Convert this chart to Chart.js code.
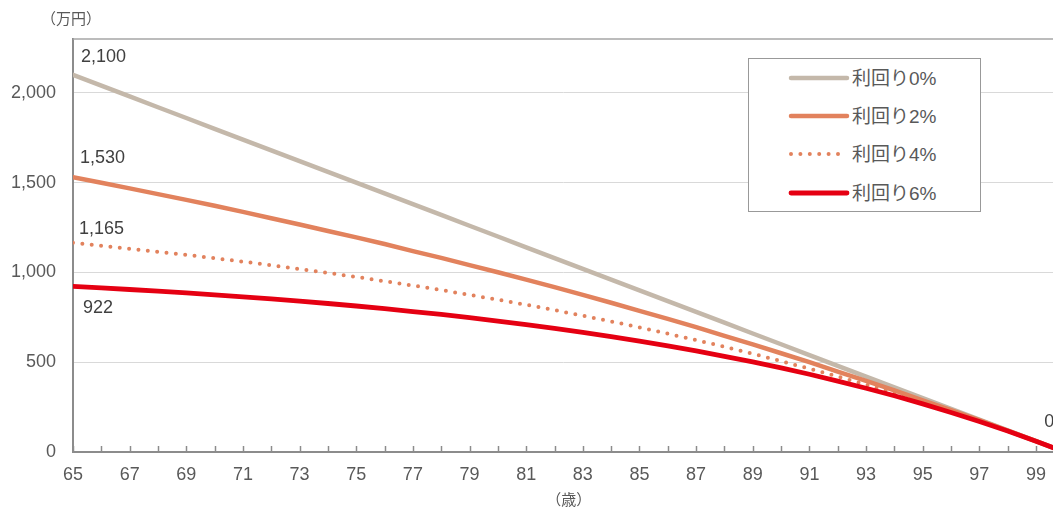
<!DOCTYPE html>
<html lang="ja">
<head>
<meta charset="utf-8">
<script src="https://cdn.jsdelivr.net/npm/chart.js@4.4.1/dist/chart.umd.min.js"></script>
<style>
  html, body { margin: 0; padding: 0; background: #fff; overflow: hidden; }
  #wrap { position: relative; width: 1053px; height: 509px; }
  #legend {
    position: absolute; left: 748px; top: 58px; width: 233px; height: 154px;
    box-sizing: border-box; border: 1px solid #999; background: #fff;
    font-family: "Liberation Sans", Arial, "Noto Sans CJK JP", sans-serif;
    font-size: 19px; color: #595959;
  }
  .row { position: relative; height: 38.2px; }
  .row svg { position: absolute; left: 38px; top: 14px; }
  .row span { position: absolute; left: 103px; top: 50%; transform: translateY(-50%); line-height: 1; white-space: nowrap; }
</style>
</head>
<body>
<div id="wrap">
  <canvas id="chart" width="1053" height="509"></canvas>
  <div id="legend"></div>
</div>
<script>
// ages (years old)
const ages = [65, 66, 67, 68, 69, 70, 71, 72, 73, 74, 75, 76, 77, 78, 79, 80, 81, 82,
  83, 84, 85, 86, 87, 88, 89, 90, 91, 92, 93, 94, 95, 96, 97, 98, 99, 100];

// remaining balance (万円)
const rate0 = [2100, 2040, 1980, 1920, 1860, 1800, 1740, 1680, 1620, 1560, 1500, 1440,
  1380, 1320, 1260, 1200, 1140, 1080, 1020, 960, 900, 840, 780, 720, 660, 600, 540,
  480, 420, 360, 300, 240, 180, 120, 60, 0];
const rate2 = [1530, 1499, 1468, 1436, 1404, 1371, 1337, 1302, 1267, 1231, 1195, 1158,
  1119, 1081, 1041, 1001, 960, 918, 875, 831, 786, 741, 695, 647, 599, 550, 500,
  448, 396, 343, 288, 233, 177, 119, 60, 0];
const rate4 = [1165, 1149, 1132, 1115, 1098, 1079, 1060, 1040, 1019, 997, 975, 951,
  927, 902, 875, 848, 820, 790, 759, 727, 694, 659, 623, 586, 547, 506, 464,
  420, 375, 327, 278, 227, 173, 118, 60, 0];
const rate6 = [922, 914, 905, 896, 886, 875, 864, 853, 840, 827, 813, 798,
  782, 766, 748, 729, 710, 689, 666, 643, 618, 591, 563, 533, 502, 468, 433,
  395, 355, 313, 268, 220, 170, 117, 60, 0];

const seriesNames = ['利回り0%', '利回り2%', '利回り4%', '利回り6%'];
const seriesValues = [rate0, rate2, rate4, rate6];
const yTicks = [0, 500, 1000, 1500, 2000];

const FONT = '"Liberation Sans", Arial, "Noto Sans CJK JP", sans-serif';
const AXIS_COLOR = '#8c8c8c';
const TEXT_COLOR = '#595959';

const styles = [
  { color: '#c4b8aa', width: 4.5, dash: [] },
  { color: '#e2825d', width: 4.5, dash: [] },
  { color: '#e2825d', width: 4, dash: [0, 9.4] },
  { color: '#e50012', width: 4.8, dash: [] }
];

// which points get a value label, and where it sits relative to the point
const valueLabels = [
  { series: 0, index: 0, dx: 8, dy: -18, align: 'left' },
  { series: 1, index: 0, dx: 7, dy: -19, align: 'left' },
  { series: 2, index: 0, dx: 6, dy: -14, align: 'left' },
  { series: 3, index: 0, dx: 10, dy: 22, align: 'left' },
  { series: 3, index: 35, dx: -15, dy: -30, align: 'center' }
];

function fmt(v) {
  return v.toLocaleString('en-US');
}

const datasets = seriesNames.map((name, i) => ({
  label: name,
  data: ages.map((a, j) => ({ x: a, y: seriesValues[i][j] })),
  borderColor: styles[i].color,
  backgroundColor: styles[i].color,
  borderWidth: styles[i].width,
  borderDash: styles[i].dash,
  borderCapStyle: 'round',
  borderJoinStyle: 'round',
  pointRadius: 0,
  tension: 0,
  order: 3 - i
}));

const decorations = {
  id: 'decorations',
  afterDraw(chart) {
    const { ctx, chartArea: area, scales: { x, y } } = chart;
    ctx.save();
    // top border
    ctx.strokeStyle = '#a6a6a6';
    ctx.lineWidth = 1.5;
    ctx.beginPath();
    ctx.moveTo(area.left, area.top);
    ctx.lineTo(chart.width, area.top);
    ctx.stroke();
    // tick marks pointing into the plot
    ctx.strokeStyle = AXIS_COLOR;
    ctx.lineWidth = 1.5;
    x.ticks.forEach(t => {
      const px = Math.round(x.getPixelForValue(t.value)) + 0.5;
      ctx.beginPath();
      ctx.moveTo(px, area.bottom);
      ctx.lineTo(px, area.bottom - 6);
      ctx.stroke();
    });
    // axis titles
    ctx.fillStyle = TEXT_COLOR;
    ctx.font = '15px ' + FONT;
    ctx.textAlign = 'center';
    ctx.textBaseline = 'middle';
    ctx.fillText('（万円）', 71, 20);
    ctx.fillText('（歳）', (area.left + x.getPixelForValue(100)) / 2, 501);
    // value labels
    ctx.fillStyle = '#404040';
    ctx.font = '18px ' + FONT;
    valueLabels.forEach(l => {
      const v = seriesValues[l.series][l.index];
      const px = x.getPixelForValue(ages[l.index]);
      const py = y.getPixelForValue(v);
      ctx.textAlign = l.align;
      ctx.fillText(fmt(v), px + l.dx, py + l.dy);
    });
    ctx.restore();
  }
};

Chart.defaults.font.family = FONT;
Chart.defaults.font.size = 18;
Chart.defaults.color = TEXT_COLOR;

new Chart(document.getElementById('chart'), {
  type: 'line',
  data: { datasets: datasets },
  options: {
    responsive: false,
    animation: false,
    layout: { padding: { top: 39, right: 0, left: 0, bottom: 0 } },
    plugins: { legend: { display: false }, tooltip: { enabled: false } },
    scales: {
      x: {
        type: 'linear',
        min: 65,
        max: 99.6,
        afterFit: s => { s.height = 57; s.paddingRight = 0; s.paddingLeft = 0; },
        grid: { display: false, drawTicks: false },
        border: { display: true, color: AXIS_COLOR, width: 2 },
        ticks: {
          stepSize: 1,
          autoSkip: false,
          includeBounds: false,
          maxRotation: 0,
          padding: 12,
          callback: v => (v % 2 === 1 ? String(v) : '')
        }
      },
      y: {
        min: 0,
        max: 2300,
        afterFit: s => { s.width = 73; },
        afterBuildTicks: s => { s.ticks = yTicks.map(v => ({ value: v })); },
        grid: { color: '#d9d9d9', lineWidth: 1, drawTicks: false },
        border: { display: true, color: AXIS_COLOR, width: 2 },
        ticks: { padding: 17, callback: v => fmt(v) }
      }
    }
  },
  plugins: [decorations]
});

// legend
const legend = document.getElementById('legend');
seriesNames.forEach((name, i) => {
  const row = document.createElement('div');
  row.className = 'row';
  const st = styles[i];
  row.innerHTML =
    '<svg width="64" height="10"><line x1="4" y1="5" x2="60" y2="5" stroke="' + st.color +
    '" stroke-width="' + st.width + '" stroke-linecap="round"' +
    (st.dash.length ? ' stroke-dasharray="' + st.dash.join(' ') + '"' : '') + '/></svg>' +
    '<span>' + name + '</span>';
  legend.appendChild(row);
});
</script>
</body>
</html>
